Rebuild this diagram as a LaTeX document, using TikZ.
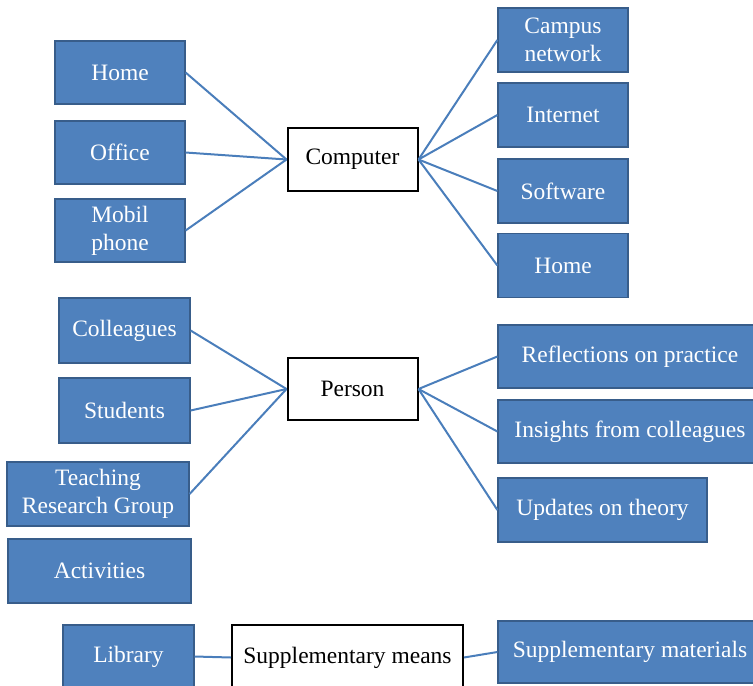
\documentclass[tikz,border=0pt]{standalone}
\usepackage{fontspec}
\setmainfont{Liberation Serif}
\definecolor{boxblue}{HTML}{4F81BD}
\definecolor{boxedge}{HTML}{385D8A}
\definecolor{linkblue}{HTML}{4A7EBB}
\tikzset{
  bluebox/.style={draw=boxedge, line width=1.2pt, fill=boxblue, text=white, align=center,
    inner sep=0pt, font=\fontsize{23.5}{28}\selectfont},
  hubbox/.style={draw=black, line width=2pt, fill=white, text=black, align=center,
    inner sep=0pt, font=\fontsize{23.5}{28}\selectfont},
  link/.style={draw=linkblue, line width=2pt}
}
\begin{document}
\begin{tikzpicture}[x=1pt,y=-1pt]
\useasboundingbox (0,0) rectangle (753,686);
\clip (0,0) rectangle (753,686);
% Computer group
\node[hubbox, minimum width=130, minimum height=63] (comp) at (352.5,159.5) {Computer};
\node[bluebox, minimum width=130, minimum height=63] (home1) at (120,72.5) {Home};
\node[bluebox, minimum width=130, minimum height=63] (office) at (120,152.5) {Office};
\node[bluebox, minimum width=130, minimum height=63] (mobil) at (120,230.5) {Mobil\\phone};
\node[bluebox, minimum width=130, minimum height=64] (campus) at (563,40) {Campus\\network};
\node[bluebox, minimum width=130, minimum height=64] (internet) at (563,115) {Internet};
\node[bluebox, minimum width=130, minimum height=64] (software) at (563,191) {Software};
\node[bluebox, minimum width=130, minimum height=64] (home2) at (563,265.5) {Home};
% Person group
\node[hubbox, minimum width=130, minimum height=62] (person) at (352.5,389) {Person};
\node[bluebox, minimum width=131, minimum height=65] (coll) at (124.5,330.5) {Colleagues};
\node[bluebox, minimum width=131, minimum height=65] (stud) at (124.5,410.5) {Students};
\node[bluebox, minimum width=182, minimum height=64] (trg) at (98,494) {Teaching\\Research Group};
\node[bluebox, minimum width=183, minimum height=64] (act) at (99.5,571) {Activities};
\node[bluebox, minimum width=264, minimum height=63] (refl) at (630,356.5) {Reflections on practice};
\node[bluebox, minimum width=264, minimum height=63] (ins) at (630,431.5) {Insights from colleagues};
\node[bluebox, minimum width=209, minimum height=64] (upd) at (602.5,510) {Updates on theory};
% Supplementary group
\node[hubbox, minimum width=231, minimum height=65] (supm) at (347.5,657.5) {Supplementary means};
\node[bluebox, minimum width=131, minimum height=63] (lib) at (128.5,656.5) {Library};
\node[bluebox, minimum width=264, minimum height=62] (supmat) at (630,652) {Supplementary materials};
% connectors
\foreach \n in {home1,office,mobil} \draw[link] (\n.east) -- (comp.west);
\foreach \n in {campus,internet,software,home2} \draw[link] (comp.east) -- (\n.west);
\foreach \n in {coll,stud,trg} \draw[link] (\n.east) -- (person.west);
\foreach \n in {refl,ins,upd} \draw[link] (person.east) -- (\n.west);
\draw[link] (lib.east) -- (supm.west);
\draw[link] (supm.east) -- (supmat.west);
\end{tikzpicture}
\end{document}
